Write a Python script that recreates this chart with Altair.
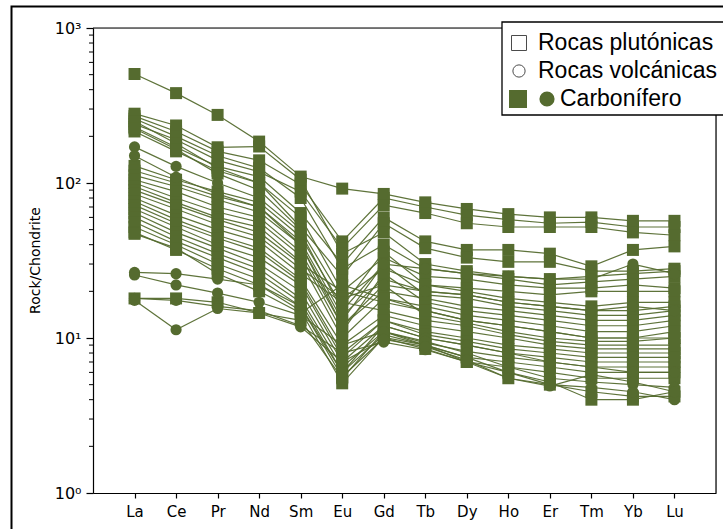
import altair as alt
import pandas as pd

# Chondrite-normalised REE patterns
ELEMENTS = ["La", "Ce", "Pr", "Nd", "Sm", "Eu", "Gd", "Tb", "Dy", "Ho", "Er", "Tm", "Yb", "Lu"]

# Plutonic samples (squares), LREE-rich group
plutonic_high = [
    [505, 380, 275, 185, 110, 92, 85, 75, 68, 63, 60, 60, 57, 57],
    [270, 215, 160, 140, 98, 42, 80, 70, 62, 58, 55, 56, 52, 52],
    [240, 190, 140, 118, 88, 38, 72, 64, 55, 52, 52, 52, 48, 46],
    [230, 170, 128, 110, 64, 30, 60, 42, 37, 37, 35, 29, 37, 39],
    [215, 160, 120, 100, 52, 25, 55, 38, 33, 31, 31, 27, 27, 28],
    [280, 235, 170, 172, 105, 35, 48, 30, 27, 25, 24, 25, 26, 27],
    [260, 200, 150, 125, 80, 28, 40, 28, 26, 24, 22, 23, 24, 25],
    [250, 180, 125, 100, 60, 20, 33, 25, 24, 22, 21, 21, 22, 21],
    [225, 165, 115, 90, 50, 18, 28, 22, 21, 20, 19, 20, 20, 20],
]

# Plutonic samples (squares), intermediate and low group
plutonic_low = [
    [129, 105, 88, 75, 45, 16, 36, 22, 20, 18, 17, 16, 17, 17],
    [120, 100, 82, 70, 42, 14, 24, 20, 19, 17, 16, 15, 15, 16],
    [112, 95, 78, 65, 40, 13, 30, 19, 18, 16, 15, 14, 14, 15],
    [105, 88, 70, 60, 36, 12, 20, 18, 16, 15, 14, 13, 13, 14],
    [100, 80, 65, 56, 34, 11, 26, 17, 15, 14, 13, 12, 12, 13],
    [95, 75, 60, 52, 31, 10, 18, 16, 14, 13, 12, 11, 11, 12],
    [90, 72, 58, 48, 30, 20, 17, 15, 13, 12, 11, 10, 10, 11],
    [85, 68, 54, 45, 28, 18, 22, 14, 12.5, 11, 10, 9.5, 9.5, 10],
    [80, 62, 50, 42, 26, 17, 15, 13, 12, 10.5, 9.5, 9, 9, 9],
    [76, 58, 46, 38, 24, 9, 14, 12, 11, 10, 9, 8.5, 8.5, 8.5],
    [72, 55, 44, 36, 23, 8, 13, 11, 10, 9, 8.5, 8, 8, 8],
    [68, 52, 40, 33, 22, 7.5, 13, 10.5, 9.5, 8.5, 8, 7.5, 7.5, 7.5],
    [64, 48, 38, 30, 20, 7, 12, 10, 9, 8, 7.5, 7, 7, 7],
    [60, 45, 35, 28, 18, 6.5, 11, 9.3, 8.2, 7.5, 7, 6.5, 6.5, 6.5],
    [56, 42, 33, 26, 17, 6, 10.5, 9, 7.5, 7, 6.5, 6, 6, 6],
    [52, 40, 30, 24, 16, 5.6, 10, 8.5, 7, 6.5, 6, 5.5, 5.5, 5.5],
    [48, 37, 28, 22, 15, 5.1, 10.1, 9, 7, 5.5, 5, 4.5, 4.2, 4.2],
    [47, 38, 26, 20, 14.5, 22, 18, 15, 13, 12, 11, 10, 10, 10],
    [18, 18, 17, 14.5, 13, 5.5, 11, 9, 7.5, 6, 5.2, 4.0, 4.0, 4.5],
]

# Volcanic samples (circles)
volcanic = [
    [171, 128, 100, 80, 48, 15, 30, 28, 26, 25, 24, 24, 30, 26],
    [150, 109, 85, 70, 40, 12, 22, 20, 19, 17, 16, 15, 16, 15],
    [26.5, 26, 24, 22, 16, 6, 12, 10, 9, 8, 7, 6.5, 6, 6],
    [25.5, 22, 19.5, 17, 14, 9, 11, 9.5, 8, 6.5, 5.5, 5.2, 5, 4.8],
    [18, 17.5, 16, 15, 12, 8, 9.4, 8.4, 7, 6, 5, 4.8, 4.5, 4.0],
    [17.5, 11.3, 15.5, 14.5, 11.8, 7, 9.8, 8.8, 7.2, 5.5, 4.9, 5.8, 5.2, 4.5],
]

GREEN = "#556b2f"

rows = []
for kind, group in [("plut", plutonic_high + plutonic_low), ("volc", volcanic)]:
    for i, vals in enumerate(group):
        for el, v in zip(ELEMENTS, vals):
            rows.append({"sample": f"{kind}{i}", "kind": kind, "element": el, "value": v})
df = pd.DataFrame(rows)

y_scale = alt.Scale(type="log", domain=[1, 1000])
x_enc = alt.X(
    "element:N",
    sort=ELEMENTS,
    scale=alt.Scale(type="point", padding=1),
    axis=alt.Axis(
        title=None, labelAngle=0, tickSize=5, labelPadding=6,
        labelFont="DejaVu Sans", labelFontSize=15, labelColor="black",
        domainColor="black", tickColor="black", domainWidth=1.2, tickWidth=1.2,
        grid=False,
    ),
)
y_axis = alt.Axis(
    values=[1, 10, 100, 1000],
    labelExpr="datum.value >= 1000 ? '10³' : datum.value >= 100 ? '10²' : datum.value >= 10 ? '10¹' : '10⁰'",
    title="Rock/Chondrite", titleFont="DejaVu Sans", titleFontSize=14,
    titleFontWeight="normal", titleColor="black",
    titleAngle=-90, titleX=-58, titleY=232, titleAlign="center", titleBaseline="middle",
    tickSize=7, labelPadding=5, labelFont="DejaVu Sans", labelFontSize=16,
    labelColor="black", domainColor="black", tickColor="black",
    domainWidth=1.2, tickWidth=1.2, grid=False,
)
y_enc = alt.Y("value:Q", scale=y_scale, axis=y_axis)

base = alt.Chart(df)
lines = base.mark_line(color=GREEN, strokeWidth=1.2, opacity=0.95).encode(
    x=x_enc, y=y_enc, detail="sample:N"
)
squares = base.transform_filter("datum.kind == 'plut'").mark_square(
    color=GREEN, size=144, opacity=1
).encode(x=x_enc, y=y_enc)
circles = base.transform_filter("datum.kind == 'volc'").mark_circle(
    color=GREEN, size=125, opacity=1
).encode(x=x_enc, y=y_enc)

# Minor ticks of the log axis
minor_vals = [m * 10 ** e for e in range(3) for m in range(2, 10)]
minor = alt.Chart(pd.DataFrame({"value": minor_vals})).mark_rule(
    color="black", strokeWidth=1
).encode(y=y_enc, x=alt.value(-4), x2=alt.value(0))

one = pd.DataFrame({"k": [0]})
spine_top = alt.Chart(one).mark_rule(color="black", strokeWidth=1.2).encode(
    x=alt.value(0), x2=alt.value(409), y=alt.value(0)
)
spine_right = alt.Chart(one).mark_rule(color="black", strokeWidth=1.2).encode(
    x=alt.value(623), y=alt.value(87), y2=alt.value(465)
)
frame = alt.Chart(one).mark_rect(fillOpacity=0, stroke="black", strokeWidth=2).encode(
    x=alt.value(-81.5), x2=alt.value(720), y=alt.value(-21.5), y2=alt.value(620)
)

# Legend box
leg_box = alt.Chart(one).mark_rect(fill="white", stroke="black", strokeWidth=1.3).encode(
    x=alt.value(409), x2=alt.value(660), y=alt.value(-6), y2=alt.value(87)
)
leg_sq = alt.Chart(one).mark_point(shape="square", filled=False, stroke="black", strokeWidth=1, size=225).encode(
    x=alt.value(426), y=alt.value(15)
)
leg_ci = alt.Chart(one).mark_point(shape="circle", filled=False, stroke="black", strokeWidth=1, size=150).encode(
    x=alt.value(426), y=alt.value(43)
)
leg_gsq = alt.Chart(one).mark_square(color=GREEN, size=324, opacity=1).encode(
    x=alt.value(425), y=alt.value(71)
)
leg_gci = alt.Chart(one).mark_circle(color=GREEN, size=230, opacity=1).encode(
    x=alt.value(454), y=alt.value(71)
)
def leg_text(label, x, y):
    return alt.Chart(one).mark_text(
        align="left", baseline="alphabetic", font="Liberation Sans", fontSize=23, color="black"
    ).encode(x=alt.value(x), y=alt.value(y), text=alt.value(label))

chart = alt.layer(
    frame, lines, squares, circles, minor, spine_top, spine_right,
    leg_box, leg_sq, leg_ci, leg_gsq, leg_gci,
    leg_text("Rocas plutónicas", 445, 22),
    leg_text("Rocas volcánicas", 445, 50),
    leg_text("Carbonífero", 467, 78),
).properties(
    width=623, height=465,
    autosize=alt.AutoSizeParams(type="none"),
    padding={"left": 93, "top": 28, "right": 7, "bottom": 36},
).configure_view(stroke=None).configure(background="white")

chart.save("out.html", embed_options={"renderer": "svg", "actions": False})
